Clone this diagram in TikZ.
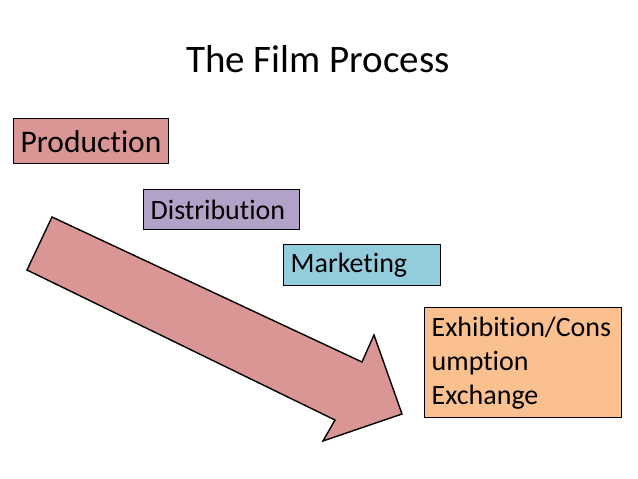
\documentclass[tikz,border=0pt]{standalone}
\usepackage{fontspec}
\setmainfont{Carlito}[Ligatures=NoCommon]
\usetikzlibrary{positioning}
\definecolor{filmrose}{HTML}{D99694}
\definecolor{filmlilac}{HTML}{B3A2C7}
\definecolor{filmaqua}{HTML}{93CDDD}
\definecolor{filmpeach}{HTML}{FAC090}
\tikzset{
  stage/.style={draw=black, line width=1.4pt, anchor=north west, align=left, inner xsep=7pt, inner ysep=0pt, font=\fontsize{28}{34}\selectfont},
  bigarr/.style={fill=filmrose, draw=black, line width=1.4pt, line join=miter},
}

\begin{document}
\begin{tikzpicture}[x=1pt, y=-1pt]
  \useasboundingbox (0,0) rectangle (638,479);
  \node[font=\fontsize{39}{47}\selectfont, anchor=base] (title) at (318,72) {The Film Process};
  % the big arrow runs under the stages
  \filldraw[bigarr] (52,217) -- (362,362) -- (374,335) -- (402,414) -- (323,441) -- (335,420) -- (27,270) -- cycle;
  \node[stage, fill=filmrose, font=\fontsize{31.5}{38}\selectfont, text width=141pt, minimum height=45pt] (prod) at (13,118) {Production};
  \node[stage, fill=filmlilac, text width=142pt, minimum height=40pt] (dist) at (143,189) {Distribution};
  \node[stage, fill=filmaqua, text width=143pt, minimum height=41pt] (mkt) at (283,244) {Marketing};
  \node[stage, fill=filmpeach, text width=183pt, minimum height=110pt] (exh) at (424,307) {Exhibition/Cons\\umption\\Exchange};
\end{tikzpicture}
\end{document}
